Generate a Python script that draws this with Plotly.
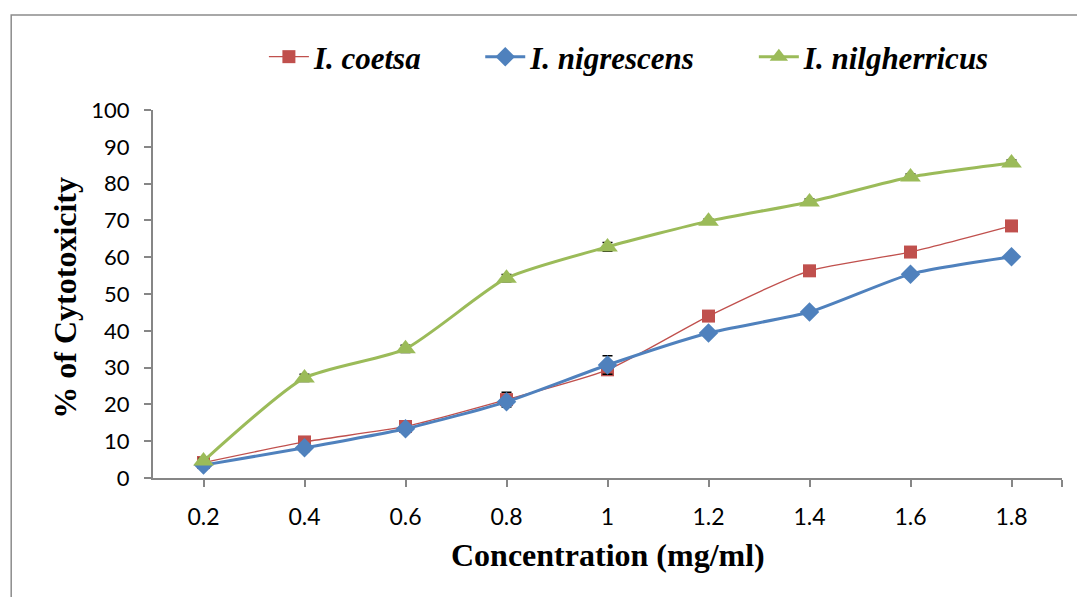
import plotly.graph_objects as go

# Concentration (mg/ml)
conc = [0.2, 0.4, 0.6, 0.8, 1.0, 1.2, 1.4, 1.6, 1.8]
conc_labels = ["0.2", "0.4", "0.6", "0.8", "1", "1.2", "1.4", "1.6", "1.8"]

# % cytotoxicity per species
coetsa = [4.2, 9.8, 14.0, 21.3, 29.4, 44.0, 56.3, 61.4, 68.5]
nigrescens = [3.5, 8.2, 13.4, 20.7, 30.7, 39.4, 45.1, 55.4, 60.1]
nilgherricus = [4.6, 27.2, 35.1, 54.3, 62.8, 69.8, 75.0, 81.8, 85.6]

# Standard deviations
coetsa_sd = [0.5, 0.6, 0.6, 2.0, 0.6, 0.5, 0.5, 0.5, 0.5]
nigrescens_sd = [0.6, 1.0, 0.8, 0.8, 2.5, 0.6, 0.8, 0.8, 0.5]
nilgherricus_sd = [0.8, 1.0, 1.0, 1.0, 1.2, 0.6, 0.8, 0.8, 0.8]

RED = "#C0504D"
BLUE = "#4F81BD"
GREEN = "#9BBB59"
AXIS = "#868686"

LEGEND_FONT = dict(family="Liberation Serif", size=31, color="black",
                   style="italic", weight="bold")
TITLE_FONT = dict(family="Liberation Serif", size=32, color="black",
                  weight="bold")


def err(values):
    return dict(type="data", array=values, visible=True,
                color="black", thickness=1.5, width=5)


def legend_box(x):
    return dict(orientation="h", x=x, y=1.144, xanchor="left",
                yanchor="middle", font=LEGEND_FONT,
                bgcolor="rgba(0,0,0,0)", itemwidth=40)


fig = go.Figure()
fig.add_trace(go.Scatter(
    x=conc, y=coetsa, name="I. coetsa", mode="lines+markers",
    line=dict(color=RED, width=1.3, shape="spline", smoothing=0.6),
    marker=dict(symbol="square", size=13, color=RED),
    error_y=err(coetsa_sd), legend="legend"))
fig.add_trace(go.Scatter(
    x=conc, y=nigrescens, name="I. nigrescens", mode="lines+markers",
    line=dict(color=BLUE, width=3, shape="spline", smoothing=0.6),
    marker=dict(symbol="diamond", size=15, color=BLUE),
    error_y=err(nigrescens_sd), legend="legend2"))
fig.add_trace(go.Scatter(
    x=conc, y=nilgherricus, name="I. nilgherricus", mode="lines+markers",
    line=dict(color=GREEN, width=3, shape="spline", smoothing=0.6),
    marker=dict(symbol="triangle-up", size=18, color=GREEN),
    error_y=err(nilgherricus_sd), legend="legend3"))

fig.update_layout(
    width=1077, height=597,
    margin=dict(l=153, r=15, t=110, b=119),
    paper_bgcolor="white", plot_bgcolor="white",
    showlegend=True,
    legend=legend_box(0.122),
    legend2=legend_box(0.36),
    legend3=legend_box(0.661),
    xaxis=dict(
        range=[0.1, 1.9], tickvals=conc + [1.9], ticktext=conc_labels + [""],
        showgrid=False, zeroline=False, showline=True,
        linecolor=AXIS, linewidth=2, ticks="outside", tickcolor=AXIS,
        ticklen=7, tickwidth=2, ticklabelstandoff=10,
        tickfont=dict(family="Lato", size=23, color="black"),
    ),
    yaxis=dict(
        range=[0, 100], tickvals=list(range(0, 101, 10)),
        showgrid=False, zeroline=False, showline=True,
        linecolor=AXIS, linewidth=2, ticks="outside", tickcolor=AXIS,
        ticklen=7, tickwidth=2, ticklabelstandoff=10,
        tickfont=dict(family="Lato", size=22, color="black"),
    ),
    annotations=[
        dict(text="Concentration (mg/ml)", xref="paper", yref="paper",
             x=0.5, y=-0.209, xanchor="center", yanchor="middle",
             showarrow=False, font=TITLE_FONT),
        dict(text="% of Cytotoxicity", xref="paper", yref="paper",
             x=-0.0968, y=0.49, xanchor="center", yanchor="middle",
             textangle=-90, showarrow=False, font=TITLE_FONT),
    ],
    shapes=[
        dict(type="rect", xref="paper", yref="paper",
             x0=-0.156, y0=-0.6, x1=1.2, y1=1.258,
             line=dict(color="#8C8C8C", width=1.5), layer="below"),
    ],
)

fig.write_html("out.html")
